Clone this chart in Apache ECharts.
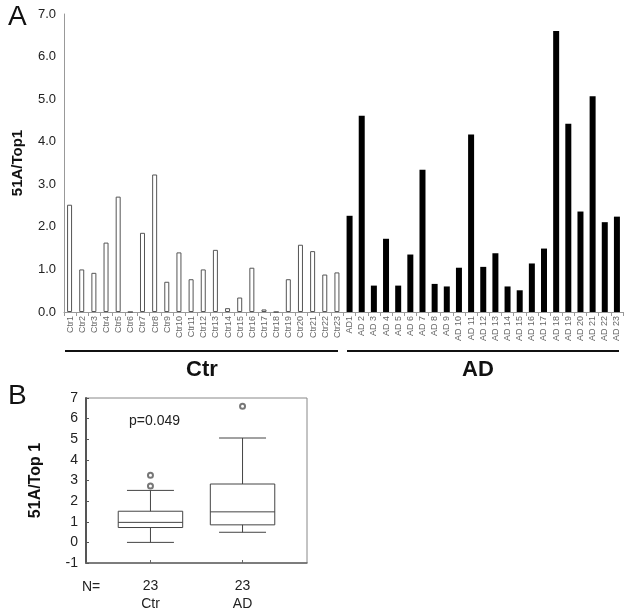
<!DOCTYPE html>
<html><head><meta charset="utf-8">
<script src="https://cdn.jsdelivr.net/npm/echarts@6/dist/echarts.min.js"></script>
<style>html,body{margin:0;padding:0;background:#fff}#c{width:628px;height:613px}</style>
</head><body><div id="c"></div>
<script>
const ctrLabels = ['Ctr1','Ctr2','Ctr3','Ctr4','Ctr5','Ctr6','Ctr7','Ctr8','Ctr9','Ctr10','Ctr11','Ctr12','Ctr13','Ctr14','Ctr15','Ctr16','Ctr17','Ctr18','Ctr19','Ctr20','Ctr21','Ctr22','Ctr23'];
const adLabels = ['AD1','AD 2','AD 3','AD 4','AD 5','AD 6','AD 7','AD 8','AD 9','AD 10','AD 11','AD 12','AD 13','AD 14','AD 15','AD 16','AD 17','AD 18','AD 19','AD 20','AD 21','AD 22','AD 23'];
const ctrValues = [2.52,1.0,0.92,1.63,2.71,0,1.86,3.23,0.71,1.4,0.77,1.0,1.46,0.09,0.34,1.04,0.06,0,0.77,1.58,1.43,0.88,0.93];
const adValues = [2.26,4.61,0.62,1.72,0.62,1.35,3.34,0.66,0.6,1.04,4.17,1.06,1.38,0.6,0.51,1.14,1.49,6.6,4.42,2.36,5.07,2.11,2.24];
const topTicks = [0,1,2,3,4,5,6,7];
// boxplot: [position, min, Q1, median, Q3, max]
const boxGroups = ['Ctr','AD'];
const boxN = [23,23];
const boxStats = [[1,0,0.72,0.97,1.51,2.52],[2,0.49,0.85,1.48,2.83,5.06]];
const outliers = [[1,2.73],[1,3.25],[2,6.6]];
const boxTicks = [-1,0,1,2,3,4,5,6,7];

const FONT = '"Liberation Sans", Arial, sans-serif';
const cats = ctrLabels.concat(adLabels);
const ctrSeries = ctrValues.concat(adValues.map(()=>'-'));
const adSeries = ctrValues.map(()=>'-').concat(adValues);

function renderBox(params, api){
  const x = api.value(0);
  const pMin = api.coord([x, api.value(1)]);
  const pQ1 = api.coord([x, api.value(2)]);
  const pMed = api.coord([x, api.value(3)]);
  const pQ3 = api.coord([x, api.value(4)]);
  const pMax = api.coord([x, api.value(5)]);
  const unit = api.size([1,0])[0];
  const hw = unit*0.35, cw = unit*0.255;
  const cx = pMin[0];
  const st = {stroke:'#444', lineWidth:1, fill:null};
  return {type:'group', children:[
    {type:'rect', shape:{x:cx-hw, y:pQ3[1], width:2*hw, height:pQ1[1]-pQ3[1]}, style:{stroke:'#444',lineWidth:1,fill:'#fff'}},
    {type:'line', shape:{x1:cx-hw,y1:pMed[1],x2:cx+hw,y2:pMed[1]}, style:st},
    {type:'line', shape:{x1:cx,y1:pQ3[1],x2:cx,y2:pMax[1]}, style:st},
    {type:'line', shape:{x1:cx,y1:pQ1[1],x2:cx,y2:pMin[1]}, style:st},
    {type:'line', shape:{x1:cx-cw,y1:pMax[1],x2:cx+cw,y2:pMax[1]}, style:st},
    {type:'line', shape:{x1:cx-cw,y1:pMin[1],x2:cx+cw,y2:pMin[1]}, style:st}
  ]};
}

const chart = echarts.init(document.getElementById('c'), null, {renderer:'canvas'});
chart.setOption({
  animation:false,
  textStyle:{fontFamily:FONT},
  grid:[
    {left:64,right:5,top:14,bottom:301},
    {left:86,right:321,top:398,bottom:49,show:true,borderColor:'#888',borderWidth:1,backgroundColor:'transparent'}
  ],
  xAxis:[
    {gridIndex:0,type:'category',data:cats,
     axisLine:{lineStyle:{color:'#999'}},
     axisTick:{show:true,length:4,lineStyle:{color:'#999'}},
     axisLabel:{rotate:90,fontSize:9,color:'#666',margin:4,interval:0,fontFamily:FONT}},
    {gridIndex:1,type:'value',min:0.3,max:2.7,
     axisLine:{show:true,onZero:false,lineStyle:{color:'#666',width:1.5}},splitLine:{show:false},
     axisTick:{show:true,inside:true,length:3,customValues:[1,2],lineStyle:{color:'#666'}},
     axisLabel:{customValues:[1,2],fontSize:14,color:'#222',margin:14,lineHeight:18,fontFamily:FONT,
       formatter:function(v){const i=Math.round(v)-1;return boxN[i]+'\n'+boxGroups[i];}}}
  ],
  yAxis:[
    {gridIndex:0,type:'value',min:0,max:7,interval:1,
     name:'51A/Top1',nameLocation:'middle',nameGap:39,
     nameTextStyle:{fontSize:15,fontWeight:'bold',color:'#111',fontFamily:FONT},
     axisLine:{show:true,lineStyle:{color:'#999'}},
     axisTick:{show:false},
     splitLine:{show:false},
     axisLabel:{fontSize:13,color:'#222',margin:8,fontFamily:FONT,formatter:v=>v.toFixed(1)}},
    {gridIndex:1,type:'value',min:-1,max:7,interval:1,
     name:'51A/Top 1',nameLocation:'middle',nameGap:42,
     nameTextStyle:{fontSize:16,fontWeight:'bold',color:'#111',fontFamily:FONT},
     axisLine:{show:true,onZero:false,lineStyle:{color:'#555',width:2}},
     axisTick:{show:true,inside:true,length:3,lineStyle:{color:'#555'}},
     splitLine:{show:false},
     axisLabel:{fontSize:14,color:'#222',margin:8,fontFamily:FONT}}
  ],
  series:[
    {type:'bar',xAxisIndex:0,yAxisIndex:0,data:ctrSeries,barWidth:5,barGap:'-100%',
     itemStyle:{color:'#fff',borderColor:'#555',borderWidth:1}},
    {type:'bar',xAxisIndex:0,yAxisIndex:0,data:adSeries,barWidth:6,barGap:'-100%',
     itemStyle:{color:'#000'}},
    {type:'custom',xAxisIndex:1,yAxisIndex:1,data:boxStats,renderItem:renderBox,
     encode:{x:0,y:[1,2,3,4,5]}},
    {type:'scatter',xAxisIndex:1,yAxisIndex:1,data:outliers,symbol:'emptyCircle',symbolSize:5,
     itemStyle:{color:'#555',borderColor:'#555',borderWidth:1}}
  ],
  graphic:[
    {type:'text',left:8,top:3,style:{text:'A',font:'28px '+FONT,fill:'#111'}},
    {type:'text',left:8,top:382,style:{text:'B',font:'28px '+FONT,fill:'#111'}},
    {type:'line',shape:{x1:65,y1:351,x2:338,y2:351},style:{stroke:'#111',lineWidth:2}},
    {type:'line',shape:{x1:347,y1:351,x2:619,y2:351},style:{stroke:'#111',lineWidth:2}},
    {type:'text',x:202,y:370,style:{text:'Ctr',font:'bold 22px '+FONT,fill:'#111',align:'center',verticalAlign:'middle'}},
    {type:'text',x:478,y:370,style:{text:'AD',font:'bold 22px '+FONT,fill:'#111',align:'center',verticalAlign:'middle'}},
    {type:'text',x:129,y:421,style:{text:'p=0.049',font:'14px '+FONT,fill:'#222',verticalAlign:'middle'}},
    {type:'text',x:82,y:587,style:{text:'N=',font:'14px '+FONT,fill:'#222',verticalAlign:'middle'}}
  ]
});
</script></body></html>
